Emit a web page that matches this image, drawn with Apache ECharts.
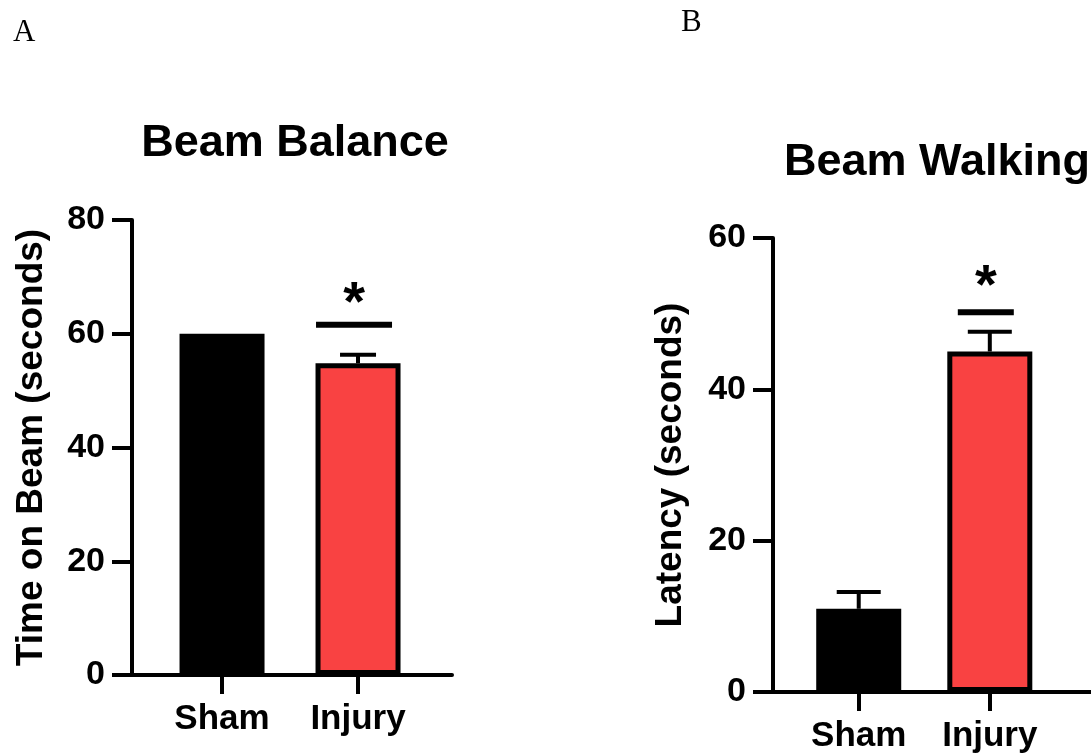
<!DOCTYPE html>
<html>
<head>
<meta charset="utf-8">
<script src="https://cdn.jsdelivr.net/npm/echarts@6/dist/echarts.min.js"></script>
<style>
html,body{margin:0;padding:0;background:#fff;}
#chart{width:1091px;height:754px;}
</style>
</head>
<body>
<div id="chart"></div>
<script>
// ---- data ----
const categories = ['Sham', 'Injury'];
const balanceMeans = [60, 54.8];
const balanceSem = [0, 1.5];
const walkingMeans = [11.0, 45.0];
const walkingSem = [2.2, 2.6];
const balanceTicks = [0, 20, 40, 60, 80];
const walkingTicks = [0, 20, 40, 60];
const balanceSig = [1, 61.6, 67.4];   // [category index, bar line value, star value]
const walkingSig = [1, 50.2, 55.2];

const RED = '#F94242';
const FONT = '"Liberation Sans", Arial, Helvetica, sans-serif';

const chart = echarts.init(document.getElementById('chart'), null, {renderer: 'canvas'});

function barData(means) {
  return means.map((v, i) => ({
    value: [i, v],
    itemStyle: i === 0 ? {color: '#000', borderColor: '#000', borderWidth: 5}
                       : {color: RED, borderColor: '#000', borderWidth: 5}
  }));
}
function errData(means, sem) { return means.map((v, i) => [i, v, sem[i]]); }

function errRender(capW) {
  return function (params, api) {
    const x = api.value(0), m = api.value(1), e = api.value(2);
    if (!e) return null;
    const p0 = api.coord([x, m]), p1 = api.coord([x, m + e]);
    return {type: 'group', children: [
      {type: 'line', shape: {x1: p0[0], y1: p0[1], x2: p1[0], y2: p1[1]}, style: {stroke: '#000', lineWidth: 4}},
      {type: 'line', shape: {x1: p1[0] - capW / 2, y1: p1[1], x2: p1[0] + capW / 2, y2: p1[1]}, style: {stroke: '#000', lineWidth: 4}}
    ]};
  };
}
function sigRender(halfW, shift) {
  return function (params, api) {
    const x = api.value(0);
    const pl = api.coord([x, api.value(1)]);
    const ps = api.coord([x, api.value(2)]);
    return {type: 'group', children: [
      {type: 'line', shape: {x1: pl[0] + shift - halfW, y1: pl[1], x2: pl[0] + shift + halfW, y2: pl[1]}, style: {stroke: '#000', lineWidth: 6}},
      {type: 'text', x: pl[0] + shift, y: ps[1] + 13, style: {text: '*', font: 'bold 56px ' + FONT, fill: '#000', align: 'center', verticalAlign: 'middle'}}
    ]};
  };
}

function xAxisCfg(gridIndex, min, max) {
  return {
    gridIndex, type: 'value', min, max,
    splitLine: {show: false},
    axisLine: {show: true, onZero: false, lineStyle: {color: '#000', width: 4}},
    axisTick: {show: true, customValues: [0, 1], length: 19, lineStyle: {color: '#000', width: 4}},
    axisLabel: {show: true, customValues: [0, 1], margin: 27, formatter: v => categories[Math.round(v)],
      color: '#000', fontFamily: FONT, fontWeight: 'bold', fontSize: 35}
  };
}
function yAxisCfg(gridIndex, name, max, gap, ticks) {
  return {
    gridIndex, type: 'value', min: 0, max, interval: 20,
    name, nameLocation: 'middle', nameGap: gap,
    nameTextStyle: {color: '#000', fontFamily: FONT, fontWeight: 'bold', fontSize: 37},
    splitLine: {show: false},
    axisLine: {show: true, onZero: false, lineStyle: {color: '#000', width: 4}},
    axisTick: {show: true, length: 20, lineStyle: {color: '#000', width: 4}},
    axisLabel: {margin: 27, color: '#000', fontFamily: FONT, fontWeight: 'bold', fontSize: 34,
      formatter: v => ticks.indexOf(v) >= 0 ? String(v) : ''}
  };
}

const option = {
  backgroundColor: '#fff',
  animation: false,
  title: [
    {text: 'A', left: 8, top: 12, textStyle: {fontFamily: '"Liberation Serif", "Times New Roman", serif', fontWeight: 'normal', fontSize: 31, color: '#000'}},
    {text: 'B', left: 676, top: 2, textStyle: {fontFamily: '"Liberation Serif", "Times New Roman", serif', fontWeight: 'normal', fontSize: 31, color: '#000'}},
    {text: 'Beam Balance', left: 290, top: 116, textAlign: 'center', textStyle: {fontFamily: FONT, fontWeight: 'bold', fontSize: 45, color: '#000'}},
    {text: 'Beam Walking', left: 932, top: 135, textAlign: 'center', textStyle: {fontFamily: FONT, fontWeight: 'bold', fontSize: 45, color: '#000'}}
  ],
  grid: [
    {left: 132, top: 220, width: 320, height: 455, containLabel: false},
    {left: 773, top: 238, width: 330, height: 454, containLabel: false}
  ],
  xAxis: [xAxisCfg(0, -0.662, 1.691), xAxisCfg(1, -0.654, 1.772)],
  yAxis: [yAxisCfg(0, 'Time on Beam (seconds)', 80, 82, balanceTicks), yAxisCfg(1, 'Latency (seconds)', 60, 84, walkingTicks)],
  series: [
    {type: 'bar', xAxisIndex: 0, yAxisIndex: 0, barWidth: 85, data: barData(balanceMeans), z: 2},
    {type: 'custom', xAxisIndex: 0, yAxisIndex: 0, renderItem: errRender(36), data: errData(balanceMeans, balanceSem), z: 1},
    {type: 'custom', xAxisIndex: 0, yAxisIndex: 0, renderItem: sigRender(38, -4), data: [balanceSig], z: 3},
    {type: 'bar', xAxisIndex: 1, yAxisIndex: 1, barWidth: 85, data: barData(walkingMeans), z: 2},
    {type: 'custom', xAxisIndex: 1, yAxisIndex: 1, renderItem: errRender(44), data: errData(walkingMeans, walkingSem), z: 1},
    {type: 'custom', xAxisIndex: 1, yAxisIndex: 1, renderItem: sigRender(28, -4), data: [walkingSig], z: 3}
  ]
};
chart.setOption(option);
</script>
</body>
</html>
